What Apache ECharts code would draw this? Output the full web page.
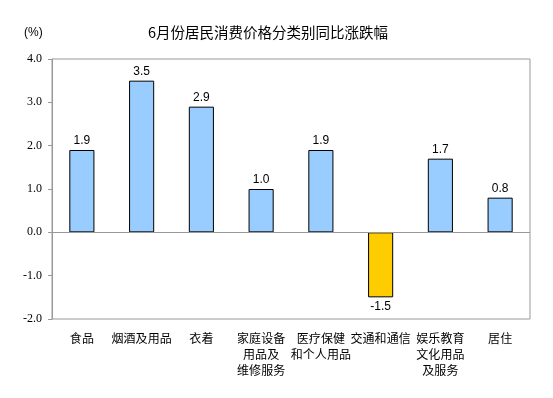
<!DOCTYPE html>
<html>
<head>
<meta charset="utf-8">
<script src="https://cdn.jsdelivr.net/npm/echarts@6/dist/echarts.min.js"></script>
<style>
  html, body { margin: 0; padding: 0; background: #fff; }
  #chart { width: 553px; height: 398px; }
</style>
</head>
<body>
<div id="chart"></div>
<script>
const categories = ['食品', '烟酒及用品', '衣着', '家庭设备\n用品及\n维修服务', '医疗保健\n和个人用品', '交通和通信', '娱乐教育\n文化用品\n及服务', '居住']
const values = [1.9, 3.5, 2.9, 1.0, 1.9, -1.5, 1.7, 0.8]
const yTicks = { min: -2, max: 4, interval: 1 }

const chart = echarts.init(document.getElementById('chart'))
const option = {
  animation: false,
  title: {
    text: '6月份居民消费价格分类别同比涨跌幅',
    left: 263,
    top: 20,
    textAlign: 'center',
    textStyle: { fontSize: 14.5, fontWeight: 'normal', color: '#000', fontFamily: 'Noto Sans CJK SC' }
  },
  graphic: [{
    type: 'text',
    left: 24,
    top: 27,
    style: { text: '(%)', fontSize: 12, fill: '#000', fontFamily: 'Liberation Sans' }
  }],
  grid: {
    left: 52,
    right: 23,
    top: 59,
    bottom: 79,
    show: true,
    borderColor: '#999',
    borderWidth: 1
  },
  xAxis: {
    type: 'category',
    data: categories,
    axisLine: { show: false },
    axisTick: { show: false },
    axisLabel: {
      interval: 0,
      margin: 11,
      color: '#000',
      fontSize: 12,
      lineHeight: 16,
      fontFamily: 'Noto Sans CJK SC'
    }
  },
  yAxis: {
    type: 'value',
    min: yTicks.min,
    max: yTicks.max,
    interval: yTicks.interval,
    splitLine: { show: false },
    axisLine: { show: true, lineStyle: { color: '#999' } },
    axisTick: { show: true, length: 4, lineStyle: { color: '#999' } },
    axisLabel: {
      margin: 10,
      color: '#000',
      fontSize: 12,
      fontFamily: '"Liberation Serif", "DejaVu Serif", serif',
      formatter: v => v.toFixed(1)
    }
  },
  series: [{
    type: 'bar',
    barWidth: '42%',
    data: values.map(v => ({
      value: v,
      itemStyle: { color: v < 0 ? '#FFCC00' : '#99CCFF' },
      label: { position: v < 0 ? 'bottom' : 'top' }
    })),
    itemStyle: { borderColor: '#000', borderWidth: 1 },
    label: {
      show: true,
      distance: 3,
      color: '#000',
      fontSize: 12,
      fontFamily: 'Liberation Sans',
      formatter: p => p.value.toFixed(1)
    },
    markLine: {
      silent: true,
      symbol: 'none',
      label: { show: false },
      lineStyle: { color: '#999', type: 'solid', width: 1 },
      data: [{ yAxis: 0 }]
    }
  }]
}
chart.setOption(option)
</script>
</body>
</html>
